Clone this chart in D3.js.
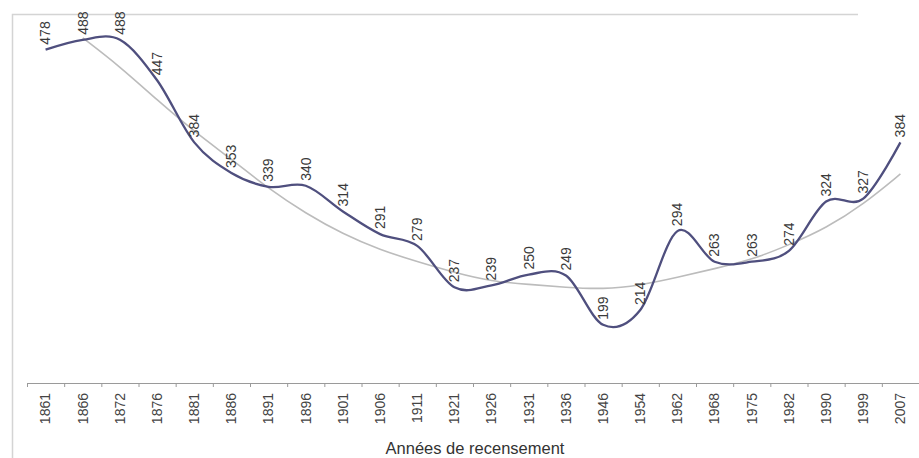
<!DOCTYPE html>
<html>
<head>
<meta charset="utf-8">
<title>Années de recensement</title>
<script src="https://cdnjs.cloudflare.com/ajax/libs/d3/7.8.5/d3.min.js"></script>
<style>
  body { margin: 0; background: #fff; }
  text { font-family: "Liberation Sans", Arial, sans-serif; }
</style>
</head>
<body>
<script>
	// census years (category axis)
	var years = ["1861","1866","1872","1876","1881","1886","1891","1896","1901","1906","1911","1921",
	             "1926","1931","1936","1946","1954","1962","1968","1975","1982","1990","1999","2007"];

	// population at each census
	var population = [478,488,488,447,384,353,339,340,314,291,279,237,
	                  239,250,249,199,214,294,263,263,274,324,327,384];

	// grey trend line (starts at 1866)
	var trend = [null,490,461,427,395,367,337,312,291,275,263,252,
	             243,240,237,235,239,247,256,265,280,297,321,352];

	var axisTitle = "Années de recensement";

	var width = 919,
		height = 458;

	var svg = d3.select("body")
				.append("svg")
				.attr("width", width)
				.attr("height", height)
				.style("background-color", "white");

	// scanned frame, left and top edges only
	svg.append("path")
		.attr("d", "M12.5,458 L12.5,14.5 L858,14.5")
		.attr("fill", "none")
		.attr("stroke", "#d4d4d4")
		.attr("stroke-width", 1.5);

	var x = d3.scaleBand()
				.domain(years)
				.range([27, 919]);

	var y = d3.scaleLinear()
				.domain([140, 500])
				.range([383, 28]);

	var cx = function(d, i){ return x(years[i]) + x.bandwidth()/2; };

	// axis line + labels
	var axis = svg.append("g")
				.attr("transform", "translate(0,383)")
				.call(d3.axisBottom(x).tickSize(0).tickSizeOuter(0));

	axis.select(".domain").attr("stroke", "#9a9a9a").attr("stroke-width", 1.2);
	axis.selectAll(".tick text")
		.attr("font-size", "14px")
		.attr("fill", "#444")
		.attr("text-anchor", "end")
		.attr("transform", "translate(0,10) rotate(-90)")
		.attr("x", 0)
		.attr("y", 0)
		.attr("dy", "0.35em");

	// tick marks between categories
	svg.append("g").selectAll("line")
		.data(years)
		.enter().append("line")
		.attr("x1", function(d){ return x(d) + 0.5; })
		.attr("x2", function(d){ return x(d) + 0.5; })
		.attr("y1", 383)
		.attr("y2", 387)
		.attr("stroke", "#9a9a9a");

	svg.append("text")
		.attr("x", 475)
		.attr("y", 454)
		.attr("text-anchor", "middle")
		.attr("font-size", "16.5px")
		.attr("fill", "#333")
		.text(axisTitle);

	// trend line
	var trendLine = d3.line()
					.defined(function(d){ return d != null; })
					.x(cx)
					.y(function(d){ return y(d); })
					.curve(d3.curveBasis);

	svg.append("path")
		.datum(trend)
		.attr("d", trendLine)
		.attr("fill", "none")
		.attr("stroke", "#bcbcbc")
		.attr("stroke-width", 1.6);

	// population, smoothed
	var popLine = d3.line()
					.x(cx)
					.y(function(d){ return y(d); })
					.curve(d3.curveCardinal.tension(0));

	svg.append("path")
		.datum(population)
		.attr("d", popLine)
		.attr("fill", "none")
		.attr("stroke", "#4f4f7e")
		.attr("stroke-width", 2.3);

	// value labels
	svg.selectAll(".vlabel")
		.data(population)
		.enter().append("text")
		.attr("class", "vlabel")
		.attr("font-size", "14px")
		.attr("fill", "#3a3a3a")
		.attr("text-anchor", "start")
		.attr("dy", "0.35em")
		.attr("transform", function(d, i){
			return "translate(" + cx(d, i) + "," + (y(d) - 5) + ") rotate(-90)";
		})
		.text(function(d){ return d; });
</script>
</body>
</html>
